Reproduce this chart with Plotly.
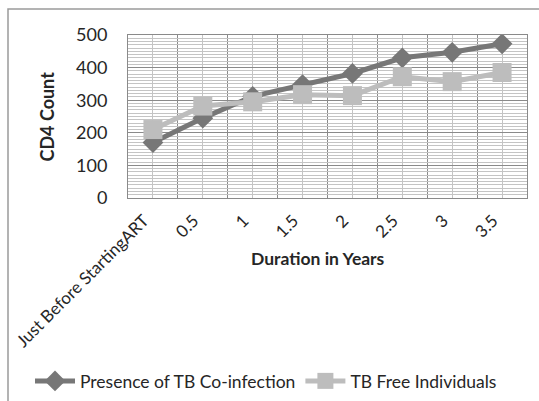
import plotly.graph_objects as go

categories = ["Just Before StartingART", "0.5", "1", "1.5", "2", "2.5", "3", "3.5"]
tb_coinfection = [170, 245, 312, 348, 382, 430, 447, 473]
tb_free = [210, 282, 295, 317, 314, 372, 357, 385]
y_ticks = [0, 100, 200, 300, 400, 500]

FONT = "Lato"
xpos = list(range(len(categories)))

fig = go.Figure()
fig.add_trace(go.Scatter(
    x=xpos, y=tb_coinfection, name="Presence of TB Co-infection",
    mode="lines+markers",
    line=dict(color="#777777", width=5),
    marker=dict(symbol="diamond", size=16, color="#777777"),
))
fig.add_trace(go.Scatter(
    x=xpos, y=tb_free, name="TB Free Individuals",
    mode="lines+markers",
    line=dict(color="#bdbdbd", width=5),
    marker=dict(symbol="square", size=19, color="#bdbdbd"),
))

L, R, T, B = 128, 12, 35, 203
W, H = 539, 401
pw, ph = W - L - R, H - T - B

fig.update_layout(
    width=W, height=H,
    margin=dict(l=L, r=R, t=T, b=B, autoexpand=False),
    paper_bgcolor="white", plot_bgcolor="white",
    font=dict(family=FONT, size=16, color="#262626"),
    showlegend=True,
    legend=dict(
        orientation="h", x=(30 - L) / pw, xanchor="left",
        y=(198 - 381) / ph, yanchor="middle",
        font=dict(size=17.5, family=FONT), itemwidth=40,
        bgcolor="rgba(0,0,0,0)",
    ),
    xaxis=dict(
        range=[-0.5, len(categories) - 0.5],
        tickvals=xpos, ticktext=categories, tickangle=-45,
        showgrid=True, gridcolor="#c4c4c4", gridwidth=1,
        minor=dict(tick0=-0.5, dtick=1, showgrid=True, gridcolor="#8a8a8a", gridwidth=1),
        showline=True, linecolor="#8a8a8a", mirror=True, linewidth=1,
        zeroline=False, ticks="", tickfont=dict(size=17),
        ticklabelshift=-9, ticklabelstandoff=5,
        fixedrange=True,
    ),
    yaxis=dict(
        range=[0, 500], tickvals=y_ticks,
        showgrid=True, gridcolor="#8a8a8a", gridwidth=1,
        minor=dict(dtick=10, showgrid=True, gridcolor="#c4c4c4", gridwidth=1),
        showline=True, linecolor="#8a8a8a", mirror=True, linewidth=1,
        zeroline=False, ticks="", ticklabelstandoff=16,
        tickfont=dict(size=18), fixedrange=True,
    ),
    annotations=[
        dict(text="<b>Duration in Years</b>", xref="paper", yref="paper",
             x=(318 - L) / pw, y=(198 - 258) / ph, xanchor="center", yanchor="middle",
             showarrow=False, font=dict(size=17.5, family=FONT)),
        dict(text="<b>CD4 Count</b>", xref="paper", yref="paper",
             x=(46 - L) / pw, y=0.5, xanchor="center", yanchor="middle",
             textangle=-90, showarrow=False, font=dict(size=18, family=FONT)),
    ],
    shapes=[
        dict(type="rect", xref="paper", yref="paper",
             x0=(8 - L) / pw, x1=(560 - L) / pw,
             y0=(198 - 420) / ph, y1=(198 - 9) / ph,
             line=dict(color="#9a9a9a", width=1.5), fillcolor="rgba(0,0,0,0)",
             layer="below"),
    ],
)

fig.write_html(
    "out.html",
    config={"displayModeBar": False},
    post_script="document.body.style.margin='0';document.body.style.overflow='hidden';",
)
